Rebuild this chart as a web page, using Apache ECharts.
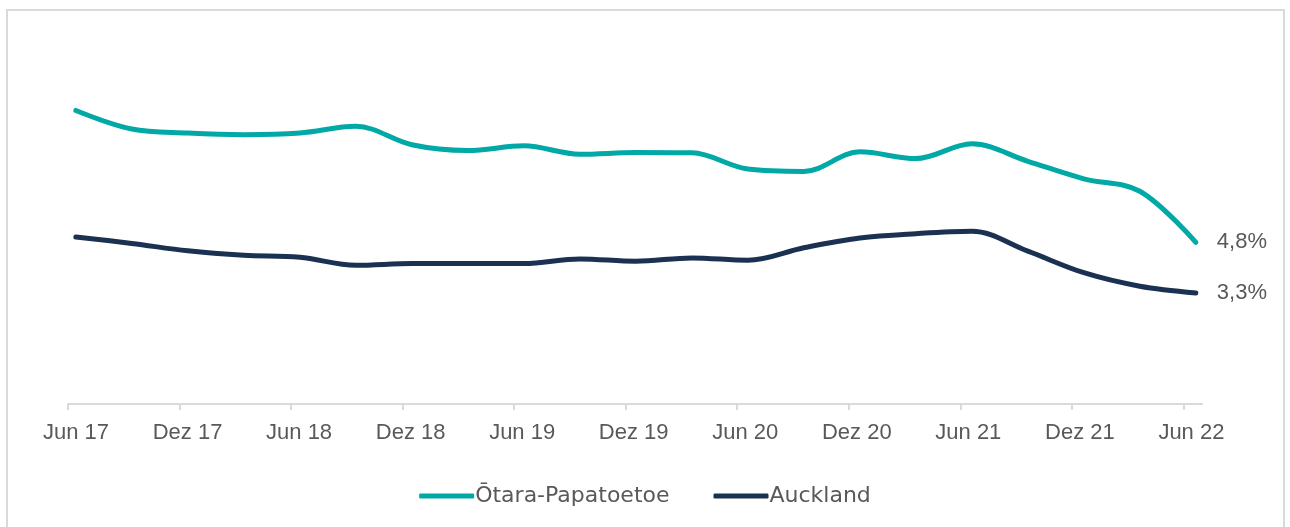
<!DOCTYPE html>
<html>
<head>
<meta charset="utf-8">
<script src="https://cdn.jsdelivr.net/npm/echarts@6/dist/echarts.min.js"></script>
<style>
  html, body { margin: 0; padding: 0; background: #fff; }
  #chart { width: 1290px; height: 527px; }
</style>
</head>
<body>
<div id="chart"></div>
<script>
// Quarterly values, Jun 17 .. Jun 22 (21 quarters)
const tickLabels = ['Jun 17', 'Dez 17', 'Jun 18', 'Dez 18', 'Jun 19', 'Dez 19', 'Jun 20', 'Dez 20', 'Jun 21', 'Dez 21', 'Jun 22'];
const otara = [8.72, 8.17, 8.05, 8.0, 8.05, 8.25, 7.70, 7.53, 7.67, 7.42, 7.47, 7.46, 6.98, 6.91, 7.49, 7.29, 7.73, 7.21, 6.69, 6.32, 4.8];
const auckland = [4.96, 4.77, 4.55, 4.42, 4.36, 4.12, 4.17, 4.17, 4.17, 4.31, 4.24, 4.34, 4.27, 4.64, 4.93, 5.06, 5.13, 4.54, 3.90, 3.50, 3.3];
const seriesNames = ['Ōtara-Papatoetoe', 'Auckland'];

const colors = ['#00A8A6', '#1B3151'];
const font = '"Liberation Sans Narrow", "Liberation Sans", sans-serif';

// month slots for the tick axis (Jun 17 .. Jun 22 plus one month)
const monthSlots = [];
for (let m = 0; m <= 61; m++) {
  monthSlots.push(m % 6 === 0 ? tickLabels[m / 6] : '');
}

function toPoints(values) {
  return values.map((v, i) => [i, v]);
}

const endLabel = {
  show: true,
  distance: 21,
  color: '#595959',
  fontFamily: font,
  fontSize: 22,
  formatter: (p) => p.value[1].toFixed(1).replace('.', ',') + '%'
};

const chart = echarts.init(document.getElementById('chart'));
chart.setOption({
  animation: false,
  color: colors,
  grid: { left: 68, right: 88, top: 64, bottom: 123, containLabel: false },
  graphic: [{
    type: 'rect',
    shape: { x: 7, y: 10, width: 1277, height: 540 },
    style: { fill: 'none', stroke: '#d9d9d9', lineWidth: 2 },
    silent: true
  }],
  legend: {
    data: seriesNames,
    bottom: 15,
    left: 'center',
    icon: 'roundRect',
    itemWidth: 55,
    itemHeight: 5,
    itemGap: 44,
    textStyle: { fontFamily: '"DejaVu Sans", sans-serif', fontSize: 22, color: '#595959', padding: [0, 0, 0, -4] }
  },
  xAxis: [
    {
      type: 'category',
      data: monthSlots,
      boundaryGap: false,
      axisLine: { lineStyle: { color: '#d9d9d9', width: 2 } },
      axisTick: {
        length: 6,
        interval: (idx) => idx % 6 === 0,
        lineStyle: { color: '#d9d9d9', width: 2 }
      },
      axisLabel: {
        interval: (idx) => idx % 6 === 0,
        color: '#595959',
        fontFamily: font,
        fontSize: 22,
        margin: 18,
        padding: [0, 0, 0, 16]
      },
      splitLine: { show: false }
    },
    {
      type: 'value',
      min: -0.14,
      max: 20.11,
      show: false
    }
  ],
  yAxis: {
    type: 'value',
    min: 0,
    max: 10.1,
    show: false
  },
  series: [
    {
      name: seriesNames[0],
      type: 'line',
      xAxisIndex: 1,
      data: toPoints(otara),
      smooth: 0.35,
      symbol: 'none',
      lineStyle: { width: 5, cap: 'round' },
      endLabel: endLabel
    },
    {
      name: seriesNames[1],
      type: 'line',
      xAxisIndex: 1,
      data: toPoints(auckland),
      smooth: 0.35,
      symbol: 'none',
      lineStyle: { width: 5, cap: 'round' },
      endLabel: endLabel
    }
  ]
});
</script>
</body>
</html>
